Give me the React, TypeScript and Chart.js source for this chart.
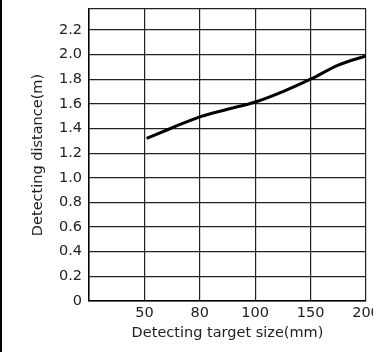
import React, { useEffect, useRef } from "react";
import { Chart, registerables } from "chart.js";

Chart.register(...registerables);

const categories = ["50", "80", "100", "150", "200"];
const curveX = [1.04, 1.47, 2.0, 2.5, 3.0, 3.5, 4.0, 4.5, 5.0];
const curveY = [1.32, 1.40, 1.495, 1.556, 1.615, 1.70, 1.80, 1.915, 1.99];
const yMax = 2.37;
const xTitle = "Detecting target size(mm)";
const yTitle = "Detecting distance(m)";

export default function App() {
  const ref = useRef<HTMLCanvasElement>(null);
  useEffect(() => {
    if (!ref.current) return;
    const font = { family: "'DejaVu Sans', sans-serif", size: 14.5 };
    const chart = new Chart(ref.current, {
      type: "line",
      data: {
        datasets: [
          {
            data: curveX.map((x, i) => ({ x, y: curveY[i] })),
            borderColor: "#000",
            borderWidth: 3,
            pointRadius: 0,
            tension: 0.4,
            cubicInterpolationMode: "monotone",
            fill: false,
          },
        ],
      },
      options: {
        animation: false,
        responsive: false,
        maintainAspectRatio: false,
        layout: { padding: { left: 30, right: 7, top: 9, bottom: 10 } },
        plugins: { legend: { display: false }, tooltip: { enabled: false } },
        scales: {
          x: {
            type: "linear",
            min: 0,
            max: 5,
            ticks: {
              stepSize: 1,
              color: "#222",
              font,
              padding: 4,
              maxRotation: 0,
              callback: (v: any) => (v >= 1 && v <= 5 ? categories[Math.round(v) - 1] : ""),
            },
            grid: { color: "#222", lineWidth: 1.2, drawTicks: false },
            border: { color: "#000", width: 1.5 },
            title: { display: true, text: xTitle, color: "#222", font, padding: { top: 4, bottom: 0 } },
            afterFit: (s: any) => {
              s.height = 41;
              s.paddingLeft = 0;
              s.paddingRight = 0;
            },
          },
          y: {
            type: "linear",
            min: 0,
            max: yMax,
            ticks: {
              stepSize: 0.2,
              color: "#222",
              font,
              padding: 7,
              callback: (v: any) => {
                const n = Number(v);
                if (Math.abs(n * 5 - Math.round(n * 5)) > 1e-6) return "";
                return n === 0 ? "0" : n.toFixed(1);
              },
            },
            grid: { color: "#222", lineWidth: 1.2, drawTicks: false },
            border: { color: "#000", width: 1.5 },
            title: { display: true, text: yTitle, color: "#222", font, padding: { top: 0, bottom: 0 } },
            afterFit: (s: any) => {
              s.width = 59;
              s.paddingTop = 0;
              s.paddingBottom = 0;
            },
          },
        },
      },
    });
    return () => chart.destroy();
  }, []);
  return (
    <div style={{ position: "fixed", left: 0, top: 0, width: 373, height: 352, background: "#fff", overflow: "hidden" }}>
      <canvas ref={ref} width={373} height={352} style={{ display: "block" }} />
      <div style={{ position: "absolute", left: 0, top: 0, width: 2, height: 352, background: "#000" }} />
    </div>
  );
}
